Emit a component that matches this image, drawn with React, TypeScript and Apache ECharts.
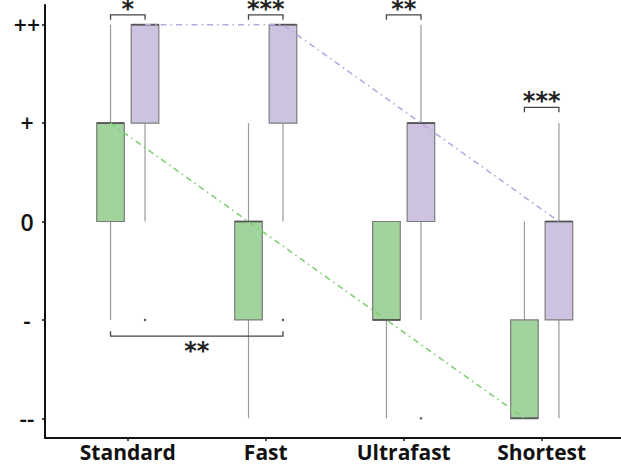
import React, { useEffect, useRef } from "react";
import * as echarts from "echarts";

const categories = ["Standard", "Fast", "Ultrafast", "Shortest"];
const tickValues = [-2, -1, 0, 1, 2];
const tickLabels = ["--", "-", "0", "+", "++"];
// [min, Q1, median, Q3, max]
const greenBoxes = [
  [-1, 0, 1, 1, 2],
  [-2, -1, 0, 0, 1],
  [-2, -1, -1, 0, 0],
  [-2, -2, -2, -1, 0],
];
const purpleBoxes = [
  [0, 1, 2, 2, 2],
  [0, 1, 2, 2, 2],
  [-1, 0, 1, 1, 2],
  [-2, -1, 0, 0, 1],
];
// [categoryIndex, value]
const purpleOutliers = [
  [0, -1],
  [1, -1],
  [2, -2],
];
const greenOutliers: number[][] = [];
// [cat1, group1 (0 green / 1 purple), cat2, group2, level, label, direction]
const brackets: [number, number, number, number, number, string, number][] = [
  [0, 0, 0, 1, 2.1, "*", 1],
  [1, 0, 1, 1, 2.1, "***", 1],
  [2, 0, 2, 1, 2.1, "**", 1],
  [3, 0, 3, 1, 1.16, "***", 1],
  [0, 0, 1, 1, -1.165, "**", -1],
];

const GREEN_FILL = "#a0d49c";
const PURPLE_FILL = "#cdc3e0";
const GREEN_LINE = "#7fcf72";
const PURPLE_LINE = "#b5a9df";
const OFFSET = 0.125;
const BOX_W = 0.2;

function posX(cat: number, group: number) {
  return cat + 1 + (group === 0 ? -OFFSET : OFFSET);
}

function boxSeries(boxes: number[][], group: number, fill: string) {
  const data = boxes.map((b, i) => [posX(i, group), ...b]);
  return {
    type: "custom",
    z: 2,
    data,
    encode: { x: 0, y: [1, 2, 3, 4, 5] },
    renderItem: (params: any, api: any) => {
      const x = api.value(0);
      const mn = api.value(1);
      const q1 = api.value(2);
      const md = api.value(3);
      const q3 = api.value(4);
      const mx = api.value(5);
      const [cx, yMin] = api.coord([x, mn]);
      const yQ1 = api.coord([x, q1])[1];
      const yMd = api.coord([x, md])[1];
      const yQ3 = api.coord([x, q3])[1];
      const yMax = api.coord([x, mx])[1];
      const w = api.size([BOX_W, 0])[0];
      const children: any[] = [];
      const whisker = { stroke: "#9a9a9a", lineWidth: 1.2 };
      if (mx > q3)
        children.push({ type: "line", shape: { x1: cx, y1: yMax, x2: cx, y2: yQ3 }, style: whisker });
      if (mn < q1)
        children.push({ type: "line", shape: { x1: cx, y1: yQ1, x2: cx, y2: yMin }, style: whisker });
      children.push({
        type: "rect",
        shape: { x: cx - w / 2, y: yQ3, width: w, height: yQ1 - yQ3 },
        style: { fill, stroke: "#7c7c7c", lineWidth: 1.2 },
      });
      children.push({
        type: "line",
        shape: { x1: cx - w / 2, y1: yMd, x2: cx + w / 2, y2: yMd },
        style: { stroke: "#555", lineWidth: 1.8 },
      });
      return { type: "group", children };
    },
  };
}

function medianLine(boxes: number[][], group: number, color: string) {
  return {
    type: "line",
    z: 5,
    symbol: "none",
    data: boxes.map((b, i) => [posX(i, group), b[2]]),
    lineStyle: { color, width: 1.6, type: [6, 4, 1.5, 4] },
  };
}

function outlierSeries(points: number[][], group: number) {
  return {
    type: "scatter",
    z: 3,
    symbolSize: 2.5,
    itemStyle: { color: "#333" },
    data: points.map((p) => [posX(p[0], group), p[1]]),
  };
}

export default function App() {
  const ref = useRef<HTMLDivElement>(null);
  useEffect(() => {
    if (!ref.current) return;
    const chart = echarts.init(ref.current, undefined, { renderer: "svg" });
    const bracketData = brackets.map((b) => [posX(b[0], b[1]), posX(b[2], b[3]), b[4], b[6], b[5]]);
    chart.setOption({
      animation: false,
      grid: { left: 45, right: 0, top: 5, bottom: 28 },
      xAxis: {
        type: "value",
        min: 0.4,
        max: 4.575,
        splitLine: { show: false },
        axisLine: { show: true, onZero: false, lineStyle: { color: "#111", width: 2 } },
        axisTick: { show: true, customValues: [1, 2, 3, 4], length: 3, lineStyle: { color: "#111", width: 1.5 } },
        axisLabel: {
          customValues: [1, 2, 3, 4],
          formatter: (v: number) => categories[Math.round(v) - 1] ?? "",
          fontFamily: "Open Sans",
          fontWeight: "bold",
          fontSize: 21,
          color: "#111",
          margin: 3,
        },
      },
      yAxis: {
        type: "value",
        min: -2.2,
        max: 2.2,
        splitLine: { show: false },
        axisLine: { show: true, onZero: false, lineStyle: { color: "#111", width: 2 } },
        axisTick: { show: true, customValues: tickValues, length: 3, lineStyle: { color: "#111", width: 1.5 } },
        axisLabel: {
          customValues: tickValues,
          formatter: (v: number) => tickLabels[tickValues.indexOf(Math.round(v))] ?? "",
          fontFamily: "Open Sans",
          fontWeight: 600,
          fontSize: 23,
          color: "#111",
          align: "center",
          margin: 18,
        },
      },
      series: [
        boxSeries(greenBoxes, 0, GREEN_FILL),
        boxSeries(purpleBoxes, 1, PURPLE_FILL),
        outlierSeries(purpleOutliers, 1),
        outlierSeries(greenOutliers, 0),
        medianLine(greenBoxes, 0, GREEN_LINE),
        medianLine(purpleBoxes, 1, PURPLE_LINE),
        {
          type: "custom",
          z: 6,
          data: bracketData.map((d) => d.slice(0, 4)),
          encode: { x: [0, 1], y: 2 },
          renderItem: (params: any, api: any) => {
            const x1 = api.value(0);
            const x2 = api.value(1);
            const lvl = api.value(2);
            const dir = api.value(3);
            const label = bracketData[params.dataIndex][4] as string;
            const [px1, py] = api.coord([x1, lvl]);
            const px2 = api.coord([x2, lvl])[0];
            const leg = 5 * dir;
            return {
              type: "group",
              children: [
                {
                  type: "polyline",
                  shape: { points: [[px1, py + leg], [px1, py], [px2, py], [px2, py + leg]] },
                  style: { stroke: "#444", lineWidth: 1.3, fill: "none" },
                },
                {
                  type: "text",
                  style: {
                    text: label,
                    x: (px1 + px2) / 2,
                    y: dir > 0 ? py - 6 : py + 2,
                    align: "center",
                    verticalAlign: dir > 0 ? "middle" : "top",
                    lineHeight: dir > 0 ? 14 : 26,
                    fontFamily: "DejaVu Sans",
                    fontWeight: "bold",
                    fontSize: 24,
                    fill: "#222",
                  },
                },
              ],
            };
          },
        },
      ],
    });
    return () => chart.dispose();
  }, []);
  return (
    <div
      ref={ref}
      style={{ position: "absolute", left: 0, top: 0, width: 621, height: 466 }}
    />
  );
}
